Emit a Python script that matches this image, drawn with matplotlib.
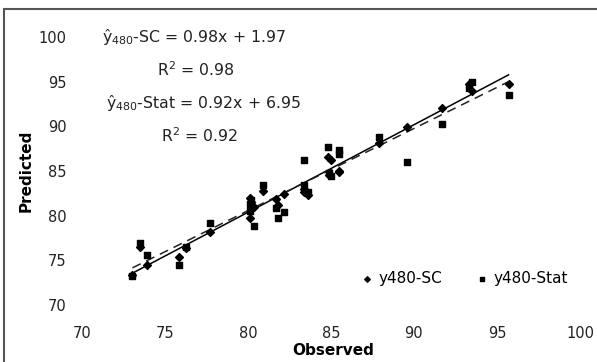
import numpy as np
import matplotlib
matplotlib.use("Agg")
import matplotlib.pyplot as plt
from matplotlib.patches import Rectangle

plt.rcParams['font.family'] = ['DejaVu Sans']
plt.rcParams['mathtext.fontset'] = 'dejavusans'

observed = [73.05, 73.5, 73.9, 75.85, 76.25, 77.75, 80.2, 80.2, 80.15, 80.1,
            80.4, 80.9, 81.7, 81.8, 82.2, 83.4, 83.6, 83.4, 84.9, 84.85,
            85.0, 85.5, 85.5, 87.9, 89.6, 91.7, 93.3, 93.5, 95.7]
pred_sc = [73.4, 76.5, 74.5, 75.4, 76.4, 78.2, 80.8, 81.5, 82.0, 79.7,
           81.0, 82.8, 81.9, 81.2, 82.4, 83.0, 82.3, 82.7, 84.6, 86.6,
           86.2, 85.0, 84.9, 88.1, 89.9, 92.1, 94.7, 94.0, 94.75]
pred_stat = [73.2, 76.9, 75.6, 74.5, 76.5, 79.15, 81.0, 81.8, 80.5, 81.3,
             78.85, 83.4, 80.8, 79.7, 80.45, 83.4, 82.6, 86.2, 84.8, 87.7,
             84.4, 87.3, 86.9, 88.8, 86.05, 90.3, 94.3, 94.9, 93.5]

# trendline coefficients (slope, intercept) as printed on the chart
fit_sc = (0.98, 1.97)
fit_stat = (0.92, 6.95)

fig = plt.figure(figsize=(5.97, 3.62), dpi=100)
ax = fig.add_axes([0.137, 0.1575, 0.8345, 0.7405])

xs = np.array([min(observed), max(observed)])
ax.plot(xs, fit_sc[0] * xs + fit_sc[1], color='black', lw=1.1, zorder=2)
ax.plot(xs, fit_stat[0] * xs + fit_stat[1], color='#222222', lw=1.1,
        ls=(0, (6, 4)), zorder=2)

ax.scatter(observed, pred_stat, marker='s', s=22, color='black',
           label='y480-Stat', zorder=3)
ax.scatter(observed, pred_sc, marker='D', s=16, color='black',
           label='y480-SC', zorder=4)

ax.set_xlim(70, 100)
ax.set_ylim(70, 100)
ax.set_xticks(range(70, 101, 5))
ax.set_yticks(range(70, 101, 5))
ax.tick_params(length=0, labelsize=10.5, colors='#222222')
ax.tick_params(axis='x', pad=15)
ax.tick_params(axis='y', pad=11)
for s in ax.spines.values():
    s.set_visible(False)

ax.set_xlabel('Observed', fontweight='bold', fontsize=11)
ax.set_ylabel('Predicted', fontweight='bold', fontsize=11)
ax.xaxis.set_label_coords(0.504, -0.142)
ax.yaxis.set_label_coords(-0.097, 0.5)

ann = dict(fontsize=11.3, ha='center', va='center', color='#222222')
ax.text(76.75, 100, '\u0177$_{480}$-SC = 0.98x + 1.97', **ann)
ax.text(76.9, 96.3, 'R$^2$ = 0.98', **ann)
ax.text(77.3, 92.6, '\u0177$_{480}$-Stat = 0.92x + 6.95', **ann)
ax.text(77.1, 89.0, 'R$^2$ = 0.92', **ann)

h, l = ax.get_legend_handles_labels()
ax.legend(h[::-1], l[::-1], loc='center', bbox_to_anchor=(0.78, 0.232),
          bbox_transform=fig.transFigure, ncol=2, frameon=False,
          handlelength=0.5, handletextpad=0.5, columnspacing=2.4,
          markerscale=0.7, fontsize=11)

# chart area border
fig.patches.append(Rectangle((0.006, -0.05), 1.2, 0.025 + 1.0, fill=False,
                             edgecolor='#555555', lw=1.5,
                             transform=fig.transFigure))

fig.savefig('out.png', dpi=100)
